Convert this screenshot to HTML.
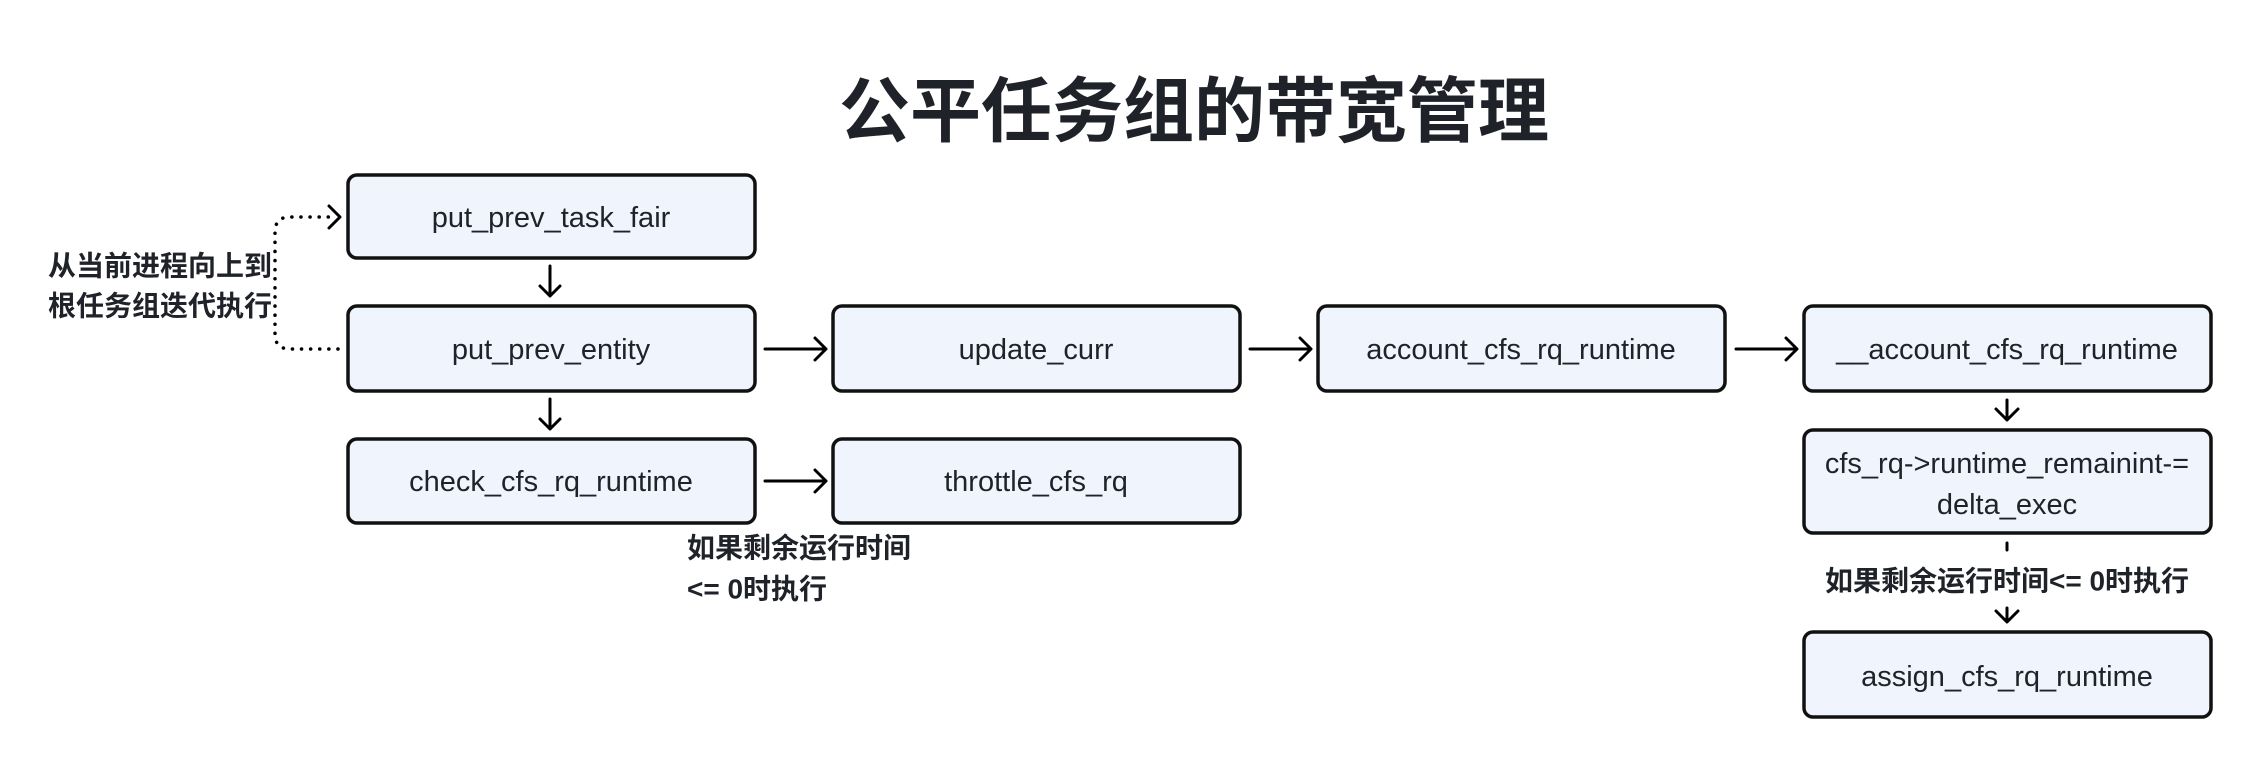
<!DOCTYPE html>
<html><head><meta charset="utf-8"><style>
html,body{margin:0;padding:0;background:#fff;}
svg{display:block;}
.b{fill:#eff4fd;stroke:#111;stroke-width:3.5;}
.t{font-family:"Liberation Sans","Noto Sans CJK SC",sans-serif;font-size:29px;fill:#1f2329;text-anchor:middle;dominant-baseline:central;}
.l{font-family:"Liberation Sans","Noto Sans CJK SC",sans-serif;font-size:28px;font-weight:bold;fill:#1f2329;}
.a{fill:none;stroke:#000;stroke-width:3;stroke-linecap:round;stroke-linejoin:round;}
</style></head><body>
<svg width="2262" height="768" viewBox="0 0 2262 768" xmlns="http://www.w3.org/2000/svg">
<text x="1194" y="106" text-anchor="middle" dominant-baseline="central" style="font-family:'Noto Sans CJK SC',sans-serif;font-size:71px;font-weight:bold;fill:#1f2329">公平任务组的带宽管理</text>

<rect class="b" x="348" y="175" width="407" height="83" rx="9"/>
<text class="t" x="551" y="218">put_prev_task_fair</text>
<rect class="b" x="348" y="306" width="407" height="85" rx="9"/>
<text class="t" x="551" y="350">put_prev_entity</text>
<rect class="b" x="348" y="439" width="407" height="84" rx="9"/>
<text class="t" x="551" y="482">check_cfs_rq_runtime</text>

<rect class="b" x="833" y="306" width="407" height="85" rx="9"/>
<text class="t" x="1036" y="350">update_curr</text>
<rect class="b" x="833" y="439" width="407" height="84" rx="9"/>
<text class="t" x="1036" y="482">throttle_cfs_rq</text>

<rect class="b" x="1318" y="306" width="407" height="85" rx="9"/>
<text class="t" x="1521" y="350">account_cfs_rq_runtime</text>

<rect class="b" x="1804" y="306" width="407" height="85" rx="9"/>
<text class="t" x="2007" y="350">__account_cfs_rq_runtime</text>
<rect class="b" x="1804" y="430" width="407" height="103" rx="9"/>
<text class="t" x="2007" y="464">cfs_rq-&gt;runtime_remainint-=</text>
<text class="t" x="2007" y="505">delta_exec</text>
<rect class="b" x="1804" y="632" width="407" height="85" rx="9"/>
<text class="t" x="2007" y="677">assign_cfs_rq_runtime</text>

<path class="a" d="M550 266V296M540 286L550 296L560 286"/>
<path class="a" d="M550 399V429M540 419L550 429L560 419"/>
<path class="a" d="M765 349H826M815 338L826 349L815 360"/>
<path class="a" d="M1250 349H1311M1300 338L1311 349L1300 360"/>
<path class="a" d="M1736 349H1797M1786 338L1797 349L1786 360"/>
<path class="a" d="M765 481H826M815 470L826 481L815 492"/>
<path class="a" d="M2007 400V420M1996 409L2007 420L2018 409"/>
<path class="a" d="M2007 543V550"/>
<path class="a" d="M2007 608V622M1996 611L2007 622L2018 611"/>
<text class="l" x="2007" y="581" text-anchor="middle" dominant-baseline="central">如果剩余运行时间&lt;= 0时执行</text>

<path d="M338 349H290Q275 349 275 334V232Q275 217 290 217H336" fill="none" stroke="#000" stroke-width="3.5" stroke-dasharray="0.1 9" stroke-linecap="round"/>
<path class="a" d="M329 206L340 217L329 228"/>
<text class="l" x="48" y="266" dominant-baseline="central">从当前进程向上到</text>
<text class="l" x="48" y="306" dominant-baseline="central">根任务组迭代执行</text>

<text class="l" x="687" y="548" dominant-baseline="central">如果剩余运行时间</text>
<text class="l" x="687" y="589" dominant-baseline="central">&lt;= 0时执行</text>
</svg>
</body></html>
